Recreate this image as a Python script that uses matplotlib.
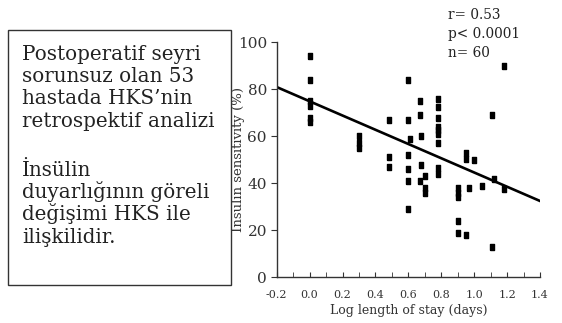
import matplotlib
matplotlib.use('Agg')
import matplotlib.pyplot as plt
from matplotlib.patches import Rectangle
from matplotlib.ticker import MultipleLocator

plt.rcParams['font.family'] = ['DejaVu Serif']

# data
log_stay = [0.0, 0.0, 0.0, 0.0, 0.0, 0.0,
            0.3, 0.3, 0.3,
            0.48, 0.48, 0.48,
            0.6, 0.6, 0.6, 0.6, 0.6, 0.6, 0.61,
            0.67, 0.67, 0.67, 0.675, 0.675,
            0.7, 0.7, 0.7,
            0.78, 0.78, 0.78, 0.78, 0.78, 0.78, 0.78, 0.78, 0.78,
            0.9, 0.9, 0.9, 0.9, 0.9,
            0.95, 0.95, 0.95, 0.97, 1.0, 1.05,
            1.11, 1.11, 1.12, 1.18, 1.18]
insulin = [94, 84, 75, 73, 68, 66,
           60, 57, 55,
           67, 51, 47,
           84, 67, 52, 46, 41, 29, 59,
           75, 69, 41, 60, 48,
           43, 38, 36,
           76, 72.5, 68, 64, 62.5, 61, 57, 46.5, 44,
           38, 36, 34, 24, 19,
           53, 50.5, 18, 38, 50, 39,
           69, 13, 42, 90, 37.5]

# regression line
fit_x = [-0.2, 1.4]
slope = -30.3
intercept = 74.9

stats = ['r= 0.53', 'p< 0.0001', 'n= 60']
box_lines1 = ['Postoperatif seyri', 'sorunsuz olan 53', 'hastada HKS\u2019nin', 'retrospektif analizi']
box_lines2 = ['\u0130ns\u00fclin', 'duyarl\u0131\u011f\u0131n\u0131n g\u00f6reli',
              'de\u011fi\u015fimi HKS ile', 'ili\u015fkilidir.']

W, H = 562, 323
fig = plt.figure(figsize=(5.62, 3.23), dpi=100)
ax = fig.add_axes([276.7 / W, 1 - 277.3 / H, 263.3 / W, 235 / H])

rect_marker = [(-0.35, -0.5), (0.35, -0.5), (0.35, 0.5), (-0.35, 0.5), (-0.35, -0.5)]
ax.plot(log_stay, insulin, linestyle='none', marker=rect_marker, markersize=4.7,
        color='black', clip_on=False)
ax.plot(fit_x, [intercept + slope * v for v in fit_x], color='black', lw=1.9)

ax.set_xlim(-0.2, 1.4)
ax.set_ylim(0, 100)
ax.xaxis.set_minor_locator(MultipleLocator(0.1))
ax.set_xticks([-0.2, 0.0, 0.2, 0.4, 0.6, 0.8, 1.0, 1.2, 1.4])
ax.set_xticklabels(['-0.2', '0.0', '0.2', '0.4', '0.6', '0.8', '1.0', '1.2', '1.4'])
ax.set_yticks([0, 20, 40, 60, 80, 100])
for s in ['top', 'right']:
    ax.spines[s].set_visible(False)
for s in ['left', 'bottom']:
    ax.spines[s].set_color('#333333')
    ax.spines[s].set_linewidth(1.0)
ax.tick_params(axis='x', which='both', direction='in', length=3.5, labelsize=8,
               color='#333333', labelcolor='#333333', pad=9)
ax.tick_params(axis='y', direction='out', length=4.5, labelsize=11,
               color='#333333', labelcolor='#333333', pad=2.5)
ax.set_xlabel('Log length of stay (days)', fontsize=9, color='#333333', labelpad=3)
ax.set_ylabel('Insulin sensitivity (%)', fontsize=9.5, color='#333333')
ax.yaxis.set_label_coords(-0.12, 0.5)

for i, s in enumerate(stats):
    fig.text(448 / W, 1 - (19 + 19 * i) / H, s, fontsize=9.8, color='#222222',
             va='baseline', ha='left')

fig.patches.append(Rectangle((8 / W, 1 - 285 / H), 223 / W, 255 / H, transform=fig.transFigure,
                             fill=False, edgecolor='#333333', lw=1.0))
for i, s in enumerate(box_lines1):
    fig.text(22 / W, 1 - (59.5 + 22.5 * i) / H, s, fontsize=14.3, color='#222222',
             va='baseline', ha='left')
for i, s in enumerate(box_lines2):
    fig.text(22 / W, 1 - (176 + 22.2 * i) / H, s, fontsize=14.3, color='#222222',
             va='baseline', ha='left')

fig.savefig('out.png', dpi=100)
